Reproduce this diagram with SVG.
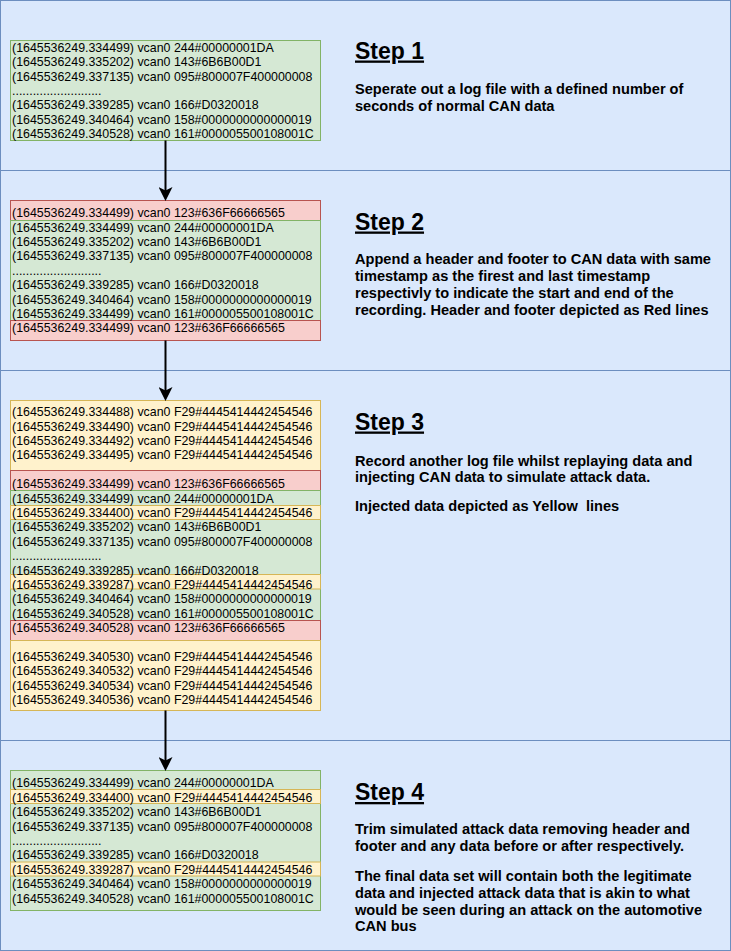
<svg xmlns="http://www.w3.org/2000/svg" width="731" height="951" viewBox="0 0 731 951">
<style>
.panel{fill:#dae8fc;stroke:#6c8ebf;stroke-width:1}
.g{fill:#d5e8d4;stroke:#82b366;stroke-width:1}
.r{fill:#f8cecc;stroke:#b85450;stroke-width:1}
.y{fill:#fff2cc;stroke:#d6b656;stroke-width:1}
.log{font-family:"Liberation Sans",Arial,sans-serif;font-size:12.4px;fill:#000}
.h{font-family:"Liberation Sans",Arial,sans-serif;font-size:23px;font-weight:bold;text-decoration:underline;fill:#000}
.b{font-family:"Liberation Sans",Arial,sans-serif;font-size:14.6px;font-weight:bold;fill:#000;white-space:pre}
.conn{stroke:#000;stroke-width:2;fill:none;marker-end:url(#arr)}
</style>
<defs>
<marker id="arr" markerUnits="userSpaceOnUse" markerWidth="14" markerHeight="14" viewBox="0 0 12 12" refX="9" refY="6" orient="auto">
<path d="M0,0 L12,6 L0,12 L3,6 Z" fill="#000"/>
</marker>
</defs>

<g id="panel1"><rect class="panel" x="0.5" y="0.5" width="730" height="170"/></g>
<g id="panel2"><rect class="panel" x="0.5" y="170.5" width="730" height="200"/></g>
<g id="panel3"><rect class="panel" x="0.5" y="370.5" width="730" height="370"/></g>
<g id="panel4"><rect class="panel" x="0.5" y="740.5" width="730" height="210"/></g>

<g id="log1">
<rect class="g" x="10.5" y="40.5" width="310" height="100"/>
<text class="log">
<tspan x="12" y="51.7">(1645536249.334499) vcan0 244#00000001DA</tspan>
<tspan x="12" y="66.1">(1645536249.335202) vcan0 143#6B6B00D1</tspan>
<tspan x="12" y="80.5">(1645536249.337135) vcan0 095#800007F400000008</tspan>
<tspan x="12" y="94.9">..........................</tspan>
<tspan x="12" y="109.3">(1645536249.339285) vcan0 166#D0320018</tspan>
<tspan x="12" y="123.7">(1645536249.340464) vcan0 158#0000000000000019</tspan>
<tspan x="12" y="138.1">(1645536249.340528) vcan0 161#000005500108001C</tspan>
</text>
</g>

<g id="log2">
<rect class="r" x="10.5" y="200.5" width="310" height="20"/>
<rect class="g" x="10.5" y="220.5" width="310" height="100"/>
<rect class="r" x="10.5" y="320.5" width="310" height="20"/>
<text class="log">
<tspan x="12" y="217.1">(1645536249.334499) vcan0 123#636F66666565</tspan>
<tspan x="12" y="231.5">(1645536249.334499) vcan0 244#00000001DA</tspan>
<tspan x="12" y="245.9">(1645536249.335202) vcan0 143#6B6B00D1</tspan>
<tspan x="12" y="260.3">(1645536249.337135) vcan0 095#800007F400000008</tspan>
<tspan x="12" y="274.7">..........................</tspan>
<tspan x="12" y="289.1">(1645536249.339285) vcan0 166#D0320018</tspan>
<tspan x="12" y="303.5">(1645536249.340464) vcan0 158#0000000000000019</tspan>
<tspan x="12" y="317.9">(1645536249.334499) vcan0 161#000005500108001C</tspan>
<tspan x="12" y="332.3">(1645536249.334499) vcan0 123#636F66666565</tspan>
</text>
</g>

<g id="log3">
<rect class="y" x="10.5" y="400.5" width="310" height="70"/>
<rect class="r" x="10.5" y="470.5" width="310" height="20"/>
<rect class="g" x="10.5" y="490.5" width="310" height="130"/>
<rect class="y" x="10.5" y="505.5" width="310" height="14"/>
<rect class="y" x="10.5" y="574.5" width="310" height="14.5"/>
<rect class="r" x="10.5" y="620.5" width="310" height="20"/>
<rect class="y" x="10.5" y="640.5" width="310" height="70"/>
<text class="log">
<tspan x="12" y="416.1">(1645536249.334488) vcan0 F29#4445414442454546</tspan>
<tspan x="12" y="430.5">(1645536249.334490) vcan0 F29#4445414442454546</tspan>
<tspan x="12" y="444.9">(1645536249.334492) vcan0 F29#4445414442454546</tspan>
<tspan x="12" y="459.3">(1645536249.334495) vcan0 F29#4445414442454546</tspan>
<tspan x="12" y="488.1">(1645536249.334499) vcan0 123#636F66666565</tspan>
<tspan x="12" y="502.5">(1645536249.334499) vcan0 244#00000001DA</tspan>
<tspan x="12" y="516.9">(1645536249.334400) vcan0 F29#4445414442454546</tspan>
<tspan x="12" y="531.3">(1645536249.335202) vcan0 143#6B6B00D1</tspan>
<tspan x="12" y="545.7">(1645536249.337135) vcan0 095#800007F400000008</tspan>
<tspan x="12" y="560.1">..........................</tspan>
<tspan x="12" y="574.5">(1645536249.339285) vcan0 166#D0320018</tspan>
<tspan x="12" y="588.9">(1645536249.339287) vcan0 F29#4445414442454546</tspan>
<tspan x="12" y="603.3">(1645536249.340464) vcan0 158#0000000000000019</tspan>
<tspan x="12" y="617.7">(1645536249.340528) vcan0 161#000005500108001C</tspan>
<tspan x="12" y="632.1">(1645536249.340528) vcan0 123#636F66666565</tspan>
<tspan x="12" y="660.9">(1645536249.340530) vcan0 F29#4445414442454546</tspan>
<tspan x="12" y="675.3">(1645536249.340532) vcan0 F29#4445414442454546</tspan>
<tspan x="12" y="689.7">(1645536249.340534) vcan0 F29#4445414442454546</tspan>
<tspan x="12" y="704.1">(1645536249.340536) vcan0 F29#4445414442454546</tspan>
</text>
</g>

<g id="log4">
<rect class="g" x="10.5" y="770.5" width="310" height="140"/>
<rect class="y" x="10.5" y="789.5" width="310" height="14"/>
<rect class="y" x="10.5" y="862" width="310" height="14"/>
<text class="log">
<tspan x="12" y="787.4">(1645536249.334499) vcan0 244#00000001DA</tspan>
<tspan x="12" y="801.8">(1645536249.334400) vcan0 F29#4445414442454546</tspan>
<tspan x="12" y="816.2">(1645536249.335202) vcan0 143#6B6B00D1</tspan>
<tspan x="12" y="830.6">(1645536249.337135) vcan0 095#800007F400000008</tspan>
<tspan x="12" y="845">..........................</tspan>
<tspan x="12" y="859.4">(1645536249.339285) vcan0 166#D0320018</tspan>
<tspan x="12" y="873.8">(1645536249.339287) vcan0 F29#4445414442454546</tspan>
<tspan x="12" y="888.2">(1645536249.340464) vcan0 158#0000000000000019</tspan>
<tspan x="12" y="902.6">(1645536249.340528) vcan0 161#000005500108001C</tspan>
</text>
</g>

<g id="step1">
<text class="h" x="355" y="58.5">Step 1</text>
<text class="b"><tspan x="355" y="94.3">Seperate out a log file with a defined number of</tspan><tspan x="355" y="110.8">seconds of normal CAN data</tspan></text>
</g>
<g id="step2">
<text class="h" x="355" y="229.5">Step 2</text>
<text class="b"><tspan x="355" y="264.3">Append a header and footer to CAN data with same</tspan><tspan x="355" y="281.1">timestamp as the firest and last timestamp</tspan><tspan x="355" y="297.9">respectivly to indicate the start and end of the</tspan><tspan x="355" y="314.7">recording. Header and footer depicted as Red lines</tspan></text>
</g>
<g id="step3">
<text class="h" x="355" y="429.5">Step 3</text>
<text class="b"><tspan x="355" y="465.5">Record another log file whilst replaying data and</tspan><tspan x="355" y="482.3">injecting CAN data to simulate attack data.</tspan><tspan x="355" y="511">Injected data depicted as Yellow  lines</tspan></text>
</g>
<g id="step4">
<text class="h" x="355" y="800">Step 4</text>
<text class="b"><tspan x="355" y="834.3">Trim simulated attack data removing header and</tspan><tspan x="355" y="851.1">footer and any data before or after respectively.</tspan><tspan x="355" y="881">The final data set will contain both the legitimate</tspan><tspan x="355" y="897.8">data and injected attack data that is akin to what</tspan><tspan x="355" y="914.6">would be seen during an attack on the automotive</tspan><tspan x="355" y="931.4">CAN bus</tspan></text>
</g>

<g id="connectors">
<line class="conn" x1="165.5" y1="140.5" x2="165.5" y2="197.5"/>
<line class="conn" x1="165.5" y1="340.5" x2="165.5" y2="397.5"/>
<line class="conn" x1="165.5" y1="710.5" x2="165.5" y2="767.5"/>
</g>
</svg>
